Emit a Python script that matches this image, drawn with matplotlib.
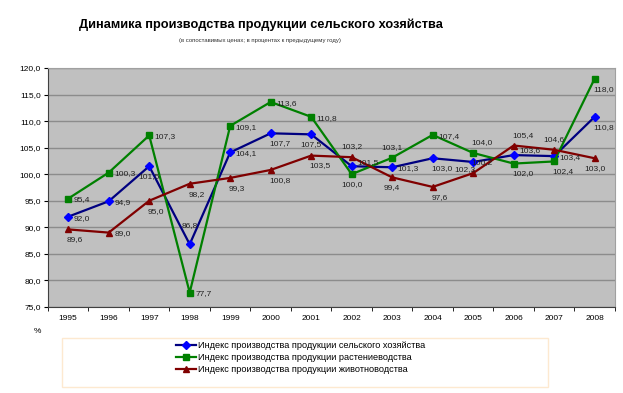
import matplotlib.pyplot as plt
from matplotlib.lines import Line2D
from matplotlib.patches import Rectangle
import numpy as np

plt.rcParams["font.family"] = ["Liberation Sans", "DejaVu Sans"]

years = [1995, 1996, 1997, 1998, 1999, 2000, 2001, 2002, 2003, 2004, 2005, 2006, 2007, 2008]
agri = [92.0, 94.9, 101.5, 86.8, 104.1, 107.7, 107.5, 101.5, 101.3, 103.0, 102.3, 103.6, 103.4, 110.8]
crops = [95.4, 100.3, 107.3, 77.7, 109.1, 113.6, 110.8, 100.0, 103.1, 107.4, 104.0, 102.0, 102.4, 118.0]
livestock = [89.6, 89.0, 95.0, 98.2, 99.3, 100.8, 103.5, 103.2, 99.4, 97.6, 100.2, 105.4, 104.6, 103.0]

names = [
    "Индекс производства продукции сельского хозяйства",
    "Индекс производства продукции растениеводства",
    "Индекс производства продукции животноводства",
]

# label placement: r right, u right-up, b below, q below-right, l below-left,
# a above, A high above, p above-right
agri_pos = list("rrbArqburqlurq")
crops_pos = list("rrrrrrrbarpqqq")
live_pos = list("qrqqqqqabqppab")

offsets = {"r": (4, -1, "left", "center"),
           "u": (4, 3, "left", "center"),
           "b": (0, -5, "center", "top"),
           "q": (-1, -5, "left", "top"),
           "l": (2, -3, "right", "top"),
           "a": (0, 5, "center", "bottom"),
           "A": (0, 11, "center", "bottom"),
           "p": (-1, 5, "left", "bottom")}

fig = plt.figure(figsize=(6.23, 3.93), dpi=100)
ax = fig.add_axes([0.077, 0.219, 0.910, 0.608])
ax.set_facecolor("#c0c0c0")

x = np.arange(len(years))
series = [
    (agri, agri_pos, "#000080", "#0000ff", "D", 4),
    (crops, crops_pos, "#008000", "#008000", "s", 4),
    (livestock, live_pos, "#800000", "#800000", "^", 5),
]
handles = []
for (vals, pos, lc, mc, mk, ms), name in zip(series, names):
    ax.plot(x, vals, color=lc, lw=1.6, marker=mk, ms=ms, mfc=mc, mec=mc, zorder=3)
    handles.append(Line2D([], [], color=lc, lw=1.6, marker=mk, ms=ms, mfc=mc, mec=mc))
    for xi, v, p in zip(x, vals, pos):
        dx, dy, ha, va = offsets[p]
        ax.annotate(f"{v:.1f}".replace(".", ","), (xi, v), xytext=(dx, dy),
                    textcoords="offset points", ha=ha, va=va, fontsize=6, color="#222222", zorder=4)

ax.set_xlim(-0.5, len(years) - 0.5)
ax.set_ylim(75, 120)
yt = np.arange(75, 121, 5)
ax.set_yticks(yt)
ax.set_yticklabels([f"{v:.1f}".replace(".", ",") for v in yt], fontsize=6)
ax.set_xticks(x)
ax.set_xticklabels([str(y) for y in years], fontsize=6)
ax.set_xticks(np.arange(-0.5, len(years), 1), minor=True)
ax.tick_params(axis="x", which="major", length=0, pad=6)
ax.tick_params(axis="x", which="minor", length=3, direction="out")
ax.tick_params(axis="y", length=3, direction="out", pad=2)
ax.grid(axis="y", color="#8c8c8c", lw=1)
ax.grid(axis="x", visible=False)
ax.set_axisbelow(True)
for s in ["top", "right"]:
    ax.spines[s].set_color("#a0a0a0")
for s in ["left", "bottom"]:
    ax.spines[s].set_color("#404040")

ax.text(-0.025, -0.09, "%", transform=ax.transAxes, fontsize=6, ha="left", va="top")

fig.text(0.419, 0.936, "Динамика производства продукции сельского хозяйства",
         ha="center", va="center", fontsize=9.2, fontweight="bold")
fig.text(0.418, 0.898, "(в сопоставимых ценах; в процентах к предыдущему году)",
         ha="center", va="center", fontsize=4.3, color="#333333")

fig.patches.append(Rectangle((62 / 623, 1 - 387 / 393), 486 / 623, 49 / 393,
                             transform=fig.transFigure, fill=False, ec="#fde9d0", lw=1))
fig.legend(handles, names, loc="upper left", bbox_to_anchor=(174 / 623, 1 - 339 / 393),
           frameon=False, fontsize=6.6, handlelength=2.2, handletextpad=0.25,
           labelspacing=0.35, borderaxespad=0, borderpad=0.2)

fig.savefig("out.png", dpi=100)
